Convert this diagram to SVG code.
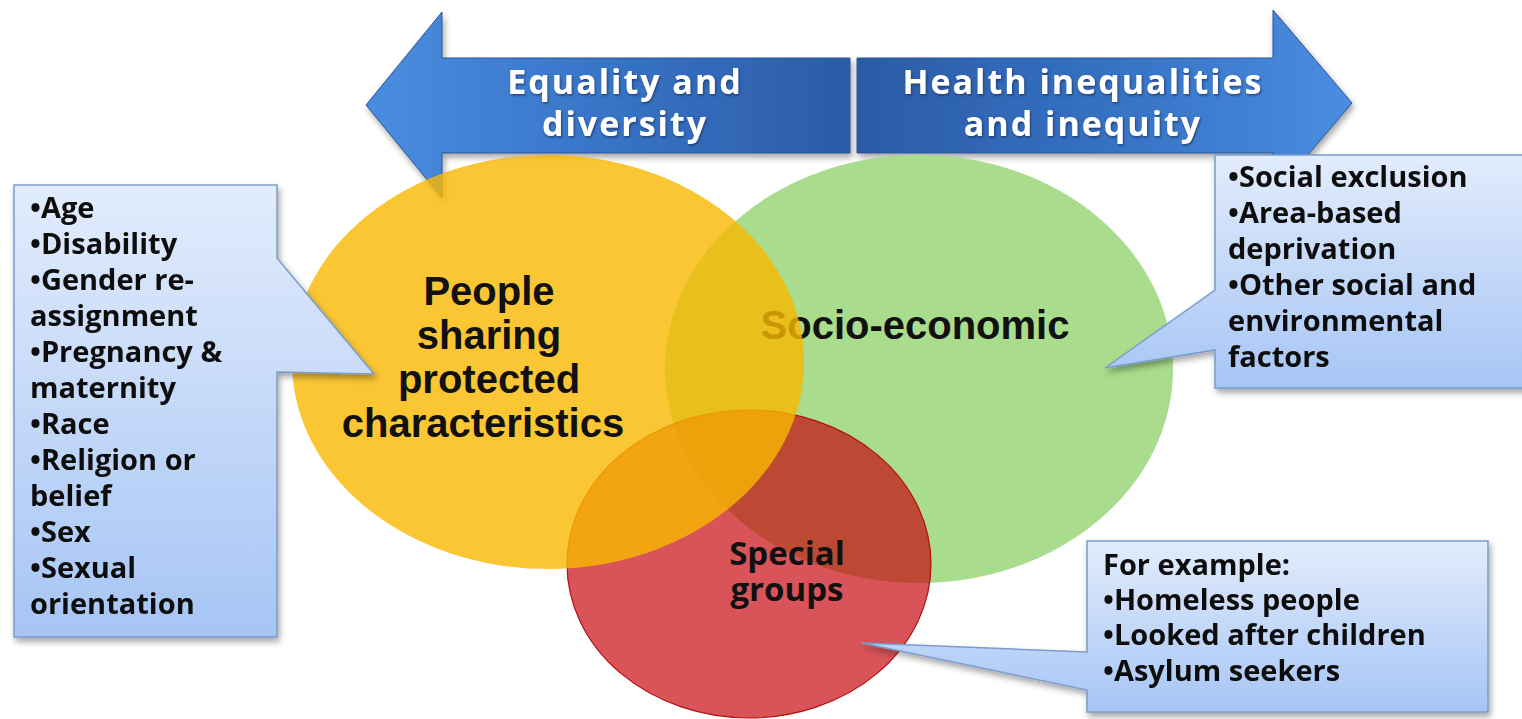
<svg xmlns="http://www.w3.org/2000/svg" width="1522" height="719" viewBox="0 0 1522 719">
<style>
.arrowtxt{font-family:"Open Sans","DejaVu Sans",sans-serif;font-weight:700;font-size:34px;fill:#ffffff;letter-spacing:2px;text-anchor:middle}
.call{fill:url(#callGrad);stroke:#7a9ccc;stroke-width:1.5}
.calltxt{font-family:"Open Sans","DejaVu Sans",sans-serif;font-weight:700;font-size:29px;fill:#111111}
.big{font-family:"Liberation Sans",Arial,sans-serif;font-weight:700;font-size:40px;fill:#111111;text-anchor:middle}
.grp{font-family:"Open Sans","DejaVu Sans",sans-serif;font-weight:700;font-size:33px;fill:#111111;text-anchor:middle}
</style>
<defs>
<linearGradient id="leftArrowGrad" x1="0" y1="0" x2="1" y2="0">
<stop offset="0" stop-color="#4a8de0"/>
<stop offset="0.5" stop-color="#3774c6"/>
<stop offset="1" stop-color="#2b5ba6"/>
</linearGradient>
<linearGradient id="rightArrowGrad" x1="0" y1="0" x2="1" y2="0">
<stop offset="0" stop-color="#2b5ba6"/>
<stop offset="0.5" stop-color="#3571c3"/>
<stop offset="1" stop-color="#4a8de0"/>
</linearGradient>
<linearGradient id="callGrad" x1="0" y1="0" x2="0" y2="1">
<stop offset="0" stop-color="#e2ecfc"/>
<stop offset="1" stop-color="#a6c5f5"/>
</linearGradient>
<filter id="shadow" x="-10%" y="-10%" width="125%" height="130%">
<feDropShadow dx="2" dy="4" stdDeviation="3" flood-color="#000000" flood-opacity="0.35"/>
</filter>
<filter id="txtShadow" x="-5%" y="-20%" width="110%" height="150%">
<feDropShadow dx="1" dy="1.5" stdDeviation="0.8" flood-color="#1a2a50" flood-opacity="0.7"/>
</filter>
</defs>

<g id="arrow-left" filter="url(#shadow)">
<polygon points="366,105 442,12 442,58 850,58 850,153 442,153 442,198" fill="url(#leftArrowGrad)" stroke="#2a5596" stroke-width="1"/>
<text class="arrowtxt" x="625" y="94" filter="url(#txtShadow)">Equality and</text>
<text class="arrowtxt" x="625" y="136" filter="url(#txtShadow)">diversity</text>
</g>
<g id="arrow-right" filter="url(#shadow)">
<polygon points="857,58 1273,58 1273,10 1352,103 1273,196 1273,153 857,153" fill="url(#rightArrowGrad)" stroke="#2a5596" stroke-width="1"/>
<text class="arrowtxt" x="1083" y="94" filter="url(#txtShadow)">Health inequalities</text>
<text class="arrowtxt" x="1083" y="136" filter="url(#txtShadow)">and inequity</text>
</g>

<g id="socio-economic">
<ellipse cx="919" cy="369" rx="254" ry="214" fill="#a9dc8c"/>
<text class="big" x="915" y="339" font-size="36">Socio-economic</text>
</g>
<g id="special-groups">
<ellipse cx="749" cy="564" rx="182" ry="154" fill="#c6070d" fill-opacity="0.69" stroke="#b31010" stroke-width="1.2"/>
<text class="grp" x="787" y="565">Special</text>
<text class="grp" x="787" y="601">groups</text>
</g>
<g id="protected-characteristics">
<ellipse cx="548" cy="362" rx="256" ry="207" fill="#f9b800" fill-opacity="0.8"/>
<text class="big" x="489" y="305">People</text>
<text class="big" x="489" y="349">sharing</text>
<text class="big" x="489" y="393">protected</text>
<text class="big" x="483" y="437">characteristics</text>
</g>

<g id="callout-left" filter="url(#shadow)">
<path class="call" d="M14,185 H277 V258 L374,374 L277,372 V637 H14 Z"/>
<text class="calltxt" x="30" y="218">•Age</text>
<text class="calltxt" x="30" y="254">•Disability</text>
<text class="calltxt" x="30" y="290">•Gender re-</text>
<text class="calltxt" x="30" y="326">assignment</text>
<text class="calltxt" x="30" y="362">•Pregnancy &amp;</text>
<text class="calltxt" x="30" y="398">maternity</text>
<text class="calltxt" x="30" y="434">•Race</text>
<text class="calltxt" x="30" y="470">•Religion or</text>
<text class="calltxt" x="30" y="506">belief</text>
<text class="calltxt" x="30" y="542">•Sex</text>
<text class="calltxt" x="30" y="578">•Sexual</text>
<text class="calltxt" x="30" y="614">orientation</text>
</g>
<g id="callout-right" filter="url(#shadow)">
<path class="call" d="M1215,155 H1530 V388 H1215 V350 L1105,368 L1215,290 Z"/>
<text class="calltxt" x="1228" y="187">•Social exclusion</text>
<text class="calltxt" x="1228" y="223">•Area-based</text>
<text class="calltxt" x="1228" y="259">deprivation</text>
<text class="calltxt" x="1228" y="295">•Other social and</text>
<text class="calltxt" x="1228" y="331">environmental</text>
<text class="calltxt" x="1228" y="367">factors</text>
</g>
<g id="callout-bottom" filter="url(#shadow)">
<path class="call" d="M1087,541 H1488 V712 H1087 V690 L862,643 L1087,652 Z"/>
<text class="calltxt" x="1103" y="575" font-size="28.5">For example:</text>
<text class="calltxt" x="1103" y="610" font-size="28.5">•Homeless people</text>
<text class="calltxt" x="1103" y="645" font-size="28.5">•Looked after children</text>
<text class="calltxt" x="1103" y="681" font-size="28.5">•Asylum seekers</text>
</g>
<g id="connectors"></g>
</svg>
